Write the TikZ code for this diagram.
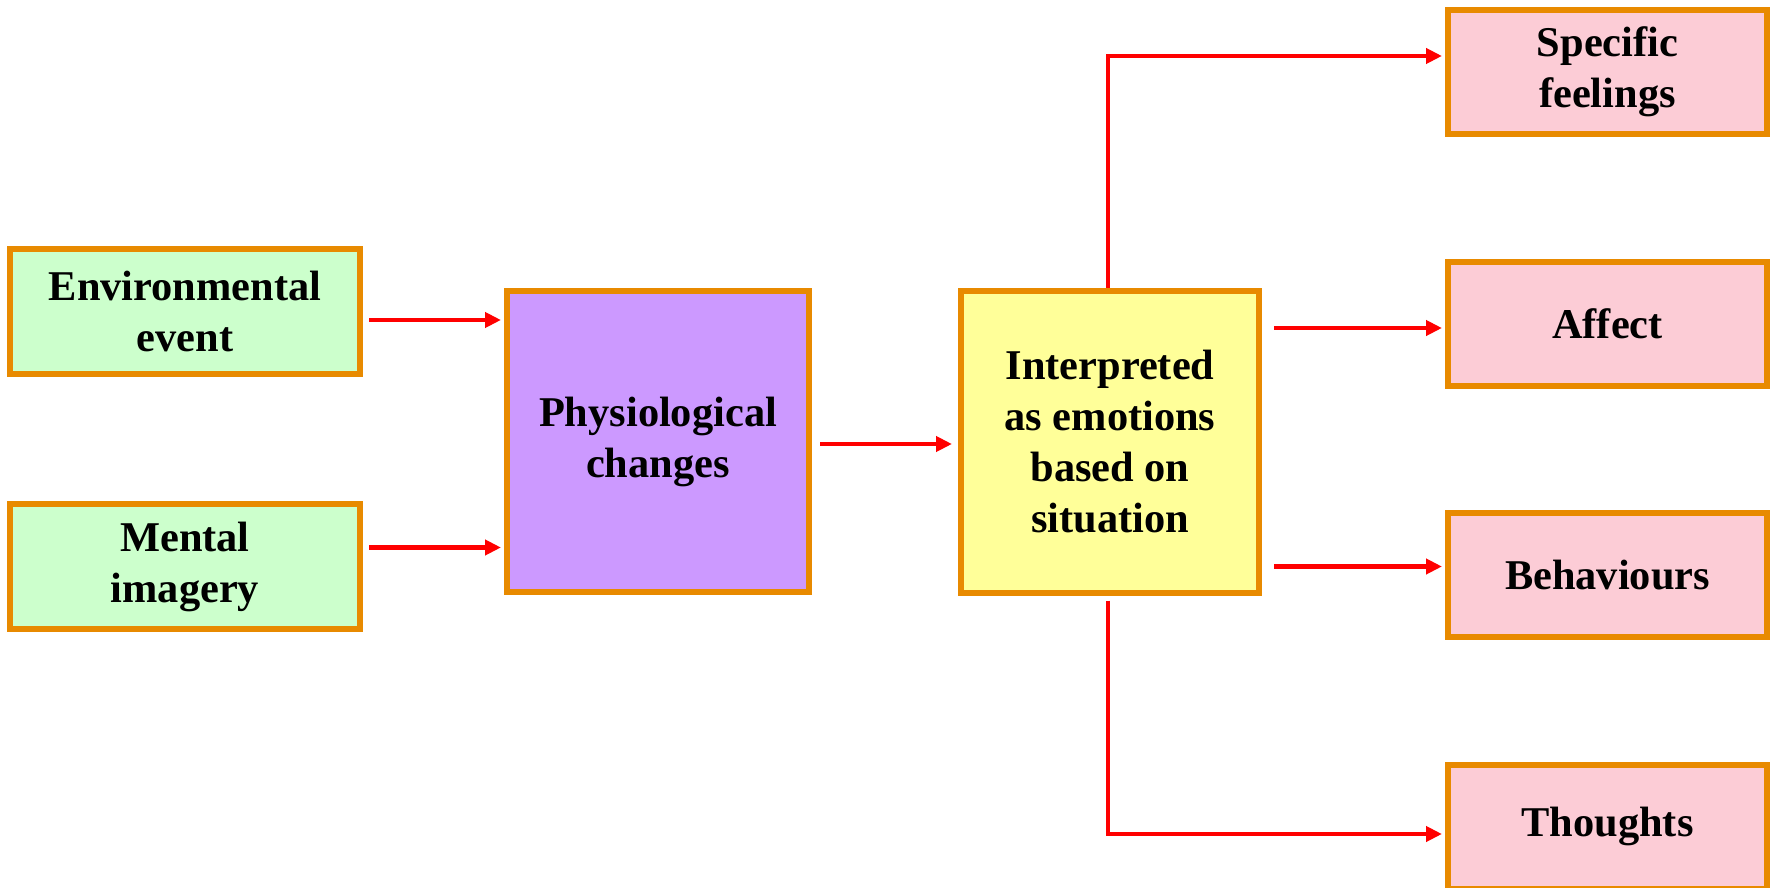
\documentclass[tikz,border=0pt]{standalone}
\usepackage{fontspec}
\setmainfont{Liberation Serif}
\usepackage{tikz}
\usetikzlibrary{arrows.meta,positioning}

\definecolor{rim}{RGB}{232,138,0}
\definecolor{srcfill}{RGB}{204,255,204}
\definecolor{physfill}{RGB}{204,153,255}
\definecolor{interpfill}{RGB}{255,255,153}
\definecolor{outfill}{RGB}{252,204,214}

\begin{document}
\begin{tikzpicture}[
  node distance=60.75pt,
  box/.style={draw=rim,line width=3pt,align=center,font=\fontsize{21.2}{25.5}\selectfont\bfseries},
  srcbox/.style={box,fill=srcfill,minimum width=175pt,minimum height=62.5pt},
  physbox/.style={box,fill=physfill,minimum width=151pt,minimum height=150.5pt},
  interpbox/.style={box,fill=interpfill,minimum width=149pt,minimum height=151pt},
  outbox/.style={box,fill=outfill,minimum width=159.5pt,minimum height=62pt},
  arr/.style={-{Triangle[length=8pt,width=7.5pt]},draw=red,line width=2.2pt,shorten <=3pt,shorten >=1.5pt}
]
\useasboundingbox (0,0) rectangle (886.5pt,-444pt);
\node[srcbox] (env) at (92.5pt,-155.75pt) {Environmental\\event};
\node[srcbox,below=62pt of env] (ment) {Mental\\imagery};
\node[physbox] (phys) at (329pt,-220.75pt) {Physiological\\changes};
\node[interpbox,right=73pt of phys] (interp) {Interpreted\\as emotions\\based on\\situation};
\node[outbox] (spec) at (803.75pt,-36pt) {Specific\\feelings};
\node[outbox,below=of spec] (aff) {Affect};
\node[outbox,below=of aff] (beh) {Behaviours};
\node[outbox,below=of beh] (th) {Thoughts};
\draw[arr] ([yshift=-4.25pt]env.east) -- ([yshift=-4.25pt]env.east -| phys.west);
\draw[arr] ([yshift=9.5pt]ment.east) -- ([yshift=9.5pt]ment.east -| phys.west);
\draw[arr,shorten <=4pt,shorten >=3pt] ([yshift=-1.25pt]phys.east) -- ([yshift=-1.25pt]phys.east -| interp.west);
\draw[arr,shorten <=0pt] ([xshift=-1pt]interp.north) |- ([yshift=8pt]spec.west);
\draw[arr,shorten <=6pt] ([yshift=-2.25pt]aff.west -| interp.east) -- ([yshift=-2.25pt]aff.west);
\draw[arr,shorten <=6pt] ([yshift=4.25pt]beh.west -| interp.east) -- ([yshift=4.25pt]beh.west);
\draw[arr,shorten <=2.5pt] ([xshift=-1pt]interp.south) |- ([yshift=-3.75pt]th.west);
\end{tikzpicture}
\end{document}
